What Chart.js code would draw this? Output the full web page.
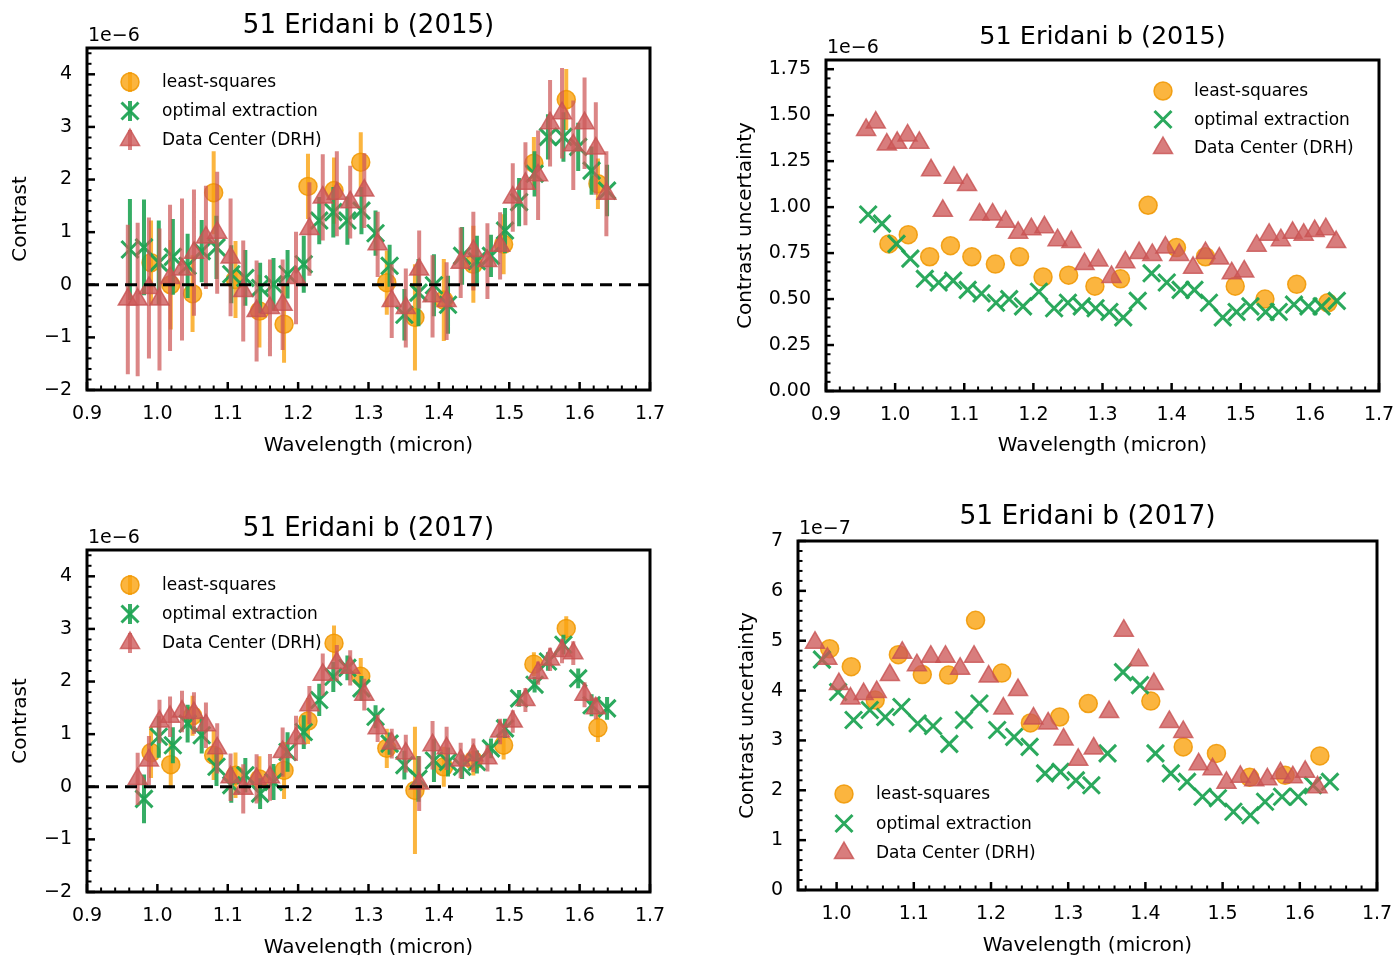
<!DOCTYPE html>
<html>
<head>
<meta charset="utf-8">
<title>51 Eridani b</title>
<script src="https://cdn.jsdelivr.net/npm/chart.js@4.4.0/dist/chart.umd.min.js"></script>
<style>
  body { margin: 0; background: #fff; width: 1395px; height: 955px; overflow: hidden; position: relative; }
  canvas { position: absolute; }
</style>
</head>
<body>
<canvas id="c15" width="697" height="477" style="left:0;top:0"></canvas>
<canvas id="u15" width="698" height="477" style="left:697px;top:0"></canvas>
<canvas id="c17" width="697" height="490" style="left:0;top:477px"></canvas>
<canvas id="u17" width="698" height="490" style="left:697px;top:477px"></canvas>
<script>
// wavelength grids (micron) for each extraction
const wlLsq = [0.991, 1.019, 1.050, 1.080, 1.111, 1.145, 1.180, 1.214, 1.251, 1.289, 1.326, 1.366, 1.407, 1.449, 1.492, 1.535, 1.581, 1.626]
const wlOpt = [0.961, 0.981, 1.002, 1.022, 1.043, 1.063, 1.084, 1.105, 1.125, 1.146, 1.165, 1.185, 1.208, 1.230, 1.250, 1.270, 1.290,
    1.310, 1.330, 1.351, 1.371, 1.393, 1.413, 1.433, 1.454, 1.474, 1.494, 1.514, 1.536, 1.555, 1.577, 1.598, 1.617, 1.639]
const wlDrh = [0.958, 0.972, 0.988, 1.003, 1.018, 1.035, 1.052, 1.069, 1.085, 1.104, 1.122, 1.141, 1.160, 1.178, 1.197, 1.216, 1.235,
    1.255, 1.274, 1.294, 1.313, 1.333, 1.353, 1.372, 1.391, 1.411, 1.431, 1.449, 1.469, 1.487, 1.505, 1.523, 1.541, 1.558, 1.575,
    1.591, 1.607, 1.623, 1.638]

// 2015 contrast (1e-6) and uncertainty (1e-6)
const lsq15 = [0.42, 0.00, -0.17, 1.75, 0.10, -0.50, -0.75, 1.87, 1.79, 2.33, 0.04, -0.62, -0.29, 0.39, 0.77, 2.31, 3.52, 1.92]
const lsqErr15 = [0.80, 0.85, 0.73, 0.79, 0.73, 0.69, 0.73, 0.62, 0.63, 0.57, 0.61, 1.01, 0.78, 0.73, 0.57, 0.50, 0.58, 0.48]
const opt15 = [0.67, 0.71, 0.42, 0.53, 0.36, 0.64, 0.71, 0.20, 0.13, -0.06, 0.01, 0.20, 0.39, 1.22, 1.38, 1.22, 1.41, 0.98, 0.36,
    -0.57, -0.15, -0.01, -0.38, 0.55, 0.45, 0.55, 1.03, 1.57, 2.11, 2.81, 2.81, 2.62, 2.17, 1.79]
const optErr15 = [0.96, 0.91, 0.80, 0.72, 0.61, 0.59, 0.60, 0.55, 0.53, 0.48, 0.50, 0.46, 0.54, 0.45, 0.48, 0.46, 0.45, 0.43, 0.40,
    0.49, 0.64, 0.59, 0.55, 0.55, 0.48, 0.40, 0.43, 0.46, 0.43, 0.43, 0.47, 0.46, 0.46, 0.49]
const drh15 = [-0.28, -0.28, -0.06, -0.28, 0.13, 0.29, 0.61, 0.90, 0.99, 0.52, -0.12, -0.50, -0.44, -0.38, 0.13, 1.06, 1.66, 1.73,
    1.57, 1.79, 0.77, -0.31, -0.44, 0.29, -0.22, -0.31, 0.42, 0.64, 0.45, 0.74, 1.66, 1.92, 2.08, 3.07, 3.26, 2.65, 3.07, 2.59, 1.73]
const drhErr15 = [1.42, 1.46, 1.34, 1.35, 1.39, 1.35, 1.20, 0.98, 1.16, 1.12, 0.96, 0.96, 0.92, 0.86, 0.88, 0.89, 0.82, 0.81, 0.69,
    0.71, 0.62, 0.70, 0.75, 0.74, 0.78, 0.74, 0.67, 0.75, 0.72, 0.64, 0.65, 0.79, 0.85, 0.82, 0.86, 0.85, 0.87, 0.88, 0.81]

// 2017 contrast (1e-6) and uncertainty (1e-7)
const lsq17 = [0.65, 0.42, 1.35, 0.60, 0.22, 0.15, 0.31, 1.25, 2.73, 2.10, 0.73, -0.07, 0.38, 0.50, 0.79, 2.33, 3.01, 1.12]
const lsqErr17 = [4.84, 4.48, 3.81, 4.72, 4.32, 4.31, 5.41, 4.35, 3.35, 3.47, 3.74, 12.1, 3.79, 2.87, 2.74, 2.26, 2.30, 2.69]
const opt17 = [null, -0.23, 0.95, 0.79, 1.20, 0.98, 0.38, 0.03, 0.22, -0.13, 0.09, 0.66, 1.04, 1.65, 2.09, 2.26, 1.87, 1.33, 0.82,
    0.41, 0.15, 0.50, 0.47, 0.38, 0.47, 0.73, 1.11, 1.68, 1.94, 2.38, 2.70, 2.06, 1.55, 1.49]
const optErr17 = [null, 4.62, 3.97, 3.41, 3.61, 3.47, 3.67, 3.34, 3.29, 2.93, 3.41, 3.74, 3.21, 3.07, 2.87, 2.34, 2.37, 2.20, 2.10,
    2.74, 4.37, 4.11, 2.74, 2.34, 2.17, 1.87, 1.84, 1.57, 1.50, 1.77, 1.87, 1.87, 2.10, 2.17]
const drh17 = [null, 0.15, 0.50, 1.24, 1.33, 1.43, 1.40, 1.17, 0.73, 0.18, -0.04, 0.15, 0.18, 0.66, 0.92, 1.55, 2.13, 2.35, 2.26,
    1.75, 1.11, 0.82, 0.63, 0.06, 0.79, 0.73, 0.50, 0.60, 0.54, 1.05, 1.24, 1.65, 2.16, 2.42, 2.58, 2.54, 1.75, 1.49, null]
const drhErr17 = [null, 4.96, 4.64, 4.13, 3.84, 3.93, 3.97, 4.31, 4.76, 4.51, 4.68, 4.68, 4.44, 4.68, 4.28, 3.64, 4.01, 3.44, 3.34,
    3.02, 2.61, 2.84, 3.57, 5.20, 4.61, 4.13, 3.37, 3.17, 2.52, 2.42, 2.15, 2.27, 2.20, 2.22, 2.34, 2.26, 2.37, 2.06, null]

// tick labels
const xTicks = [0.9, 1.0, 1.1, 1.2, 1.3, 1.4, 1.5, 1.6, 1.7]
const xTicksU17 = [1.0, 1.1, 1.2, 1.3, 1.4, 1.5, 1.6, 1.7]
const contrastTicks = [-2, -1, 0, 1, 2, 3, 4]
const uncTicks15 = [0, 0.25, 0.5, 0.75, 1.0, 1.25, 1.5, 1.75]
const uncTicks17 = [0, 1, 2, 3, 4, 5, 6, 7]
const zeroLevel = 0

const seriesNames = ['least-squares', 'optimal extraction', 'Data Center (DRH)']

Chart.defaults.font.family = "'DejaVu Sans', sans-serif"
Chart.defaults.color = '#000'
Chart.defaults.animation = false

//marker styles
const lsqSt = {style: 'circle', r: 9, fill: 'rgba(250,162,15,0.8)', edge: 'rgba(240,150,0,0.85)', bw: 1.5, bar: 'rgba(250,162,15,0.8)'}
const optSt = {style: 'crossRot', r: 12, fill: 'rgba(32,164,84,0.95)', edge: 'rgba(32,164,84,0.95)', bw: 3, bar: 'rgba(32,164,84,0.9)'}
const drhSt = {style: 'triangle', r: 11, fill: 'rgba(205,88,88,0.78)', edge: 'rgba(200,82,82,0.8)', bw: 1.5, bar: 'rgba(205,88,88,0.72)'}

function pts(xs, ys, k) {
    return xs.map((x, i) => ({x: x, y: ys[i] === null ? null : ys[i] * k}))
}
//error bars as broken line segments
function bars(xs, ys, es, k) {
    let out = []
    for (let i = 0; i < xs.length; i++) {
        if (ys[i] === null) continue
        out.push({x: xs[i], y: ys[i] - es[i] * k})
        out.push({x: xs[i], y: ys[i] + es[i] * k})
        out.push({x: xs[i], y: null})
    }
    return out
}
function markers(label, data, st, order) {
    return {type: 'scatter', label: label, data: data, order: order, pointStyle: st.style, pointRadius: st.r,
        pointHoverRadius: st.r, pointBackgroundColor: st.fill, pointBorderColor: st.edge, pointBorderWidth: st.bw,
        pointHoverBorderWidth: st.bw}
}
function errLine(data, color, order) {
    return {type: 'scatter', data: data, showLine: true, order: order, borderColor: color, borderWidth: 4,
        pointRadius: 0, pointHoverRadius: 0, spanGaps: false}
}

function drawMarker(ctx, st, x, y) {
    ctx.beginPath()
    if (st.style === 'circle') {
        ctx.arc(x, y, st.r, 0, Math.PI * 2)
    } else if (st.style === 'triangle') {
        ctx.moveTo(x, y - st.r)
        ctx.lineTo(x + 0.866 * st.r, y + 0.5 * st.r)
        ctx.lineTo(x - 0.866 * st.r, y + 0.5 * st.r)
        ctx.closePath()
    } else {
        const d = 0.707 * st.r
        ctx.moveTo(x - d, y - d); ctx.lineTo(x + d, y + d)
        ctx.moveTo(x + d, y - d); ctx.lineTo(x - d, y + d)
    }
    ctx.fillStyle = st.fill
    ctx.strokeStyle = st.edge
    ctx.lineWidth = st.bw
    if (st.style !== 'crossRot') ctx.fill()
    ctx.stroke()
}

// matplotlib-like frame, inward ticks, legend, title and offset text
const mplAxes = {
    id: 'mplAxes',
    afterDatasetsDraw(chart, args, o) {
        const ctx = chart.ctx
        const a = chart.chartArea
        ctx.save()
        ctx.strokeStyle = '#000'
        const tickLines = (scale, step, horiz) => {
            const majors = scale.ticks.map(t => t.value)
            let list = majors.map(v => [v, 8, 2.5])
            const start = Math.ceil(scale.min / step - 1e-6)
            const end = Math.floor(scale.max / step + 1e-6)
            for (let i = start; i <= end; i++) {
                const v = i * step
                if (majors.some(m => Math.abs(m - v) < step / 10)) continue
                list.push([v, 4.5, 2])
            }
            list.forEach(([v, len, w]) => {
                const p = scale.getPixelForValue(v)
                ctx.lineWidth = w
                ctx.beginPath()
                if (horiz) { ctx.moveTo(p, a.bottom); ctx.lineTo(p, a.bottom - len) }
                else { ctx.moveTo(a.left, p); ctx.lineTo(a.left + len, p) }
                ctx.stroke()
            })
        }
        tickLines(chart.scales.x, o.xMinor, true)
        tickLines(chart.scales.y, o.yMinor, false)
        ctx.lineWidth = 3
        ctx.strokeRect(a.left, a.top, a.right - a.left, a.bottom - a.top)

        // legend
        const lg = o.legend
        const styles = [lsqSt, optSt, drhSt]
        ctx.font = '17px "DejaVu Sans"'
        ctx.textBaseline = 'middle'
        ctx.textAlign = 'left'
        seriesNames.forEach((name, i) => {
            const mx = a.left + lg.mx, my = a.top + lg.my + i * lg.row
            if (lg.err) {
                ctx.strokeStyle = styles[i].bar
                ctx.lineWidth = 4
                ctx.beginPath()
                ctx.moveTo(mx, my - 10); ctx.lineTo(mx, my + 10)
                ctx.stroke()
            }
            drawMarker(ctx, styles[i], mx, my)
            ctx.fillStyle = '#000'
            ctx.fillText(name, a.left + lg.tx, my + 1)
        })

        // title and offset text
        ctx.fillStyle = '#000'
        ctx.textBaseline = 'alphabetic'
        ctx.textAlign = 'center'
        ctx.font = o.titleSize + 'px "DejaVu Sans"'
        ctx.fillText(o.title, (a.left + a.right) / 2, a.top - o.titleGap)
        ctx.textAlign = 'left'
        ctx.font = '19px "DejaVu Sans"'
        ctx.fillText(o.offset, a.left + 1, a.top - 7)
        ctx.restore()
    }
}

function panel(id, p) {
    return new Chart(document.getElementById(id), {
        data: {datasets: p.datasets},
        options: {
            responsive: false,
            animation: false,
            events: [],
            layout: {padding: p.pad},
            plugins: {
                legend: {display: false},
                tooltip: {enabled: false},
                mplAxes: p.deco
            },
            scales: {
                x: {
                    type: 'linear', min: p.xMin, max: 1.7, bounds: 'data',
                    grid: {display: false, drawTicks: false},
                    border: {display: false},
                    afterBuildTicks: s => { s.ticks = p.xTicks.map(v => ({value: v})) },
                    afterFit: s => { s.height = p.xH; s.paddingLeft = 0; s.paddingRight = 0 },
                    ticks: {padding: 13, font: {size: 19}, autoSkip: false, maxRotation: 0, callback: v => v.toFixed(1)},
                    title: {display: true, text: 'Wavelength (micron)', font: {size: 20}, padding: {top: 0, bottom: p.xTitlePad}}
                },
                y: {
                    type: 'linear', min: p.yMin, max: p.yMax, bounds: 'data',
                    grid: {display: false, drawTicks: false},
                    border: {display: false},
                    afterBuildTicks: s => { s.ticks = p.yTicks.map(v => ({value: v})) },
                    afterFit: s => { s.width = p.yW; s.paddingTop = 0; s.paddingBottom = 0 },
                    ticks: {padding: 15, font: {size: 19}, autoSkip: false, callback: p.yFmt},
                    title: {display: true, text: p.yTitle, font: {size: 20}, padding: {top: p.yTitlePad, bottom: 0}}
                }
            }
        },
        plugins: [mplAxes]
    })
}

const minusFmt = v => v < 0 ? '\u2212' + Math.abs(v) : String(v)

function contrastSets(lsq, lsqE, opt, optE, drh, drhE, k) {
    return [
        errLine(bars(wlLsq, lsq, lsqE, k), lsqSt.bar, 8),
        markers(seriesNames[0], pts(wlLsq, lsq, 1), lsqSt, 7),
        errLine(bars(wlOpt, opt, optE, k), optSt.bar, 6),
        markers(seriesNames[1], pts(wlOpt, opt, 1), optSt, 5),
        errLine(bars(wlDrh, drh, drhE, k), drhSt.bar, 4),
        markers(seriesNames[2], pts(wlDrh, drh, 1), drhSt, 3),
        {type: 'scatter', data: [{x: 0.9, y: zeroLevel}, {x: 1.7, y: zeroLevel}], showLine: true, order: 1,
            borderColor: '#000', borderWidth: 3, borderDash: [12, 7], pointRadius: 0}
    ]
}
function uncSets(lsqE, optE, drhE) {
    return [
        markers(seriesNames[0], pts(wlLsq, lsqE, 1), lsqSt, 7),
        markers(seriesNames[1], pts(wlOpt, optE, 1), optSt, 5),
        markers(seriesNames[2], pts(wlDrh, drhE, 1), drhSt, 3)
    ]
}

//2015 contrast
panel('c15', {
    datasets: contrastSets(lsq15, lsqErr15, opt15, optErr15, drh15, drhErr15, 1),
    pad: {left: 0, top: 48, right: 47, bottom: 0},
    xMin: 0.9, xTicks: xTicks, xH: 87, xTitlePad: 19,
    yMin: -2, yMax: 4.5, yTicks: contrastTicks, yW: 87, yFmt: minusFmt, yTitle: 'Contrast', yTitlePad: 9,
    deco: {title: '51 Eridani b (2015)', titleSize: 26, titleGap: 15, offset: '1e\u22126', xMinor: 0.02, yMinor: 0.2,
        legend: {mx: 43, my: 34, tx: 75, row: 29, err: true}}
})

//2015 uncertainty
panel('u15', {
    datasets: uncSets(lsqErr15, optErr15, drhErr15),
    pad: {left: 0, top: 60, right: 16, bottom: 0},
    xMin: 0.9, xTicks: xTicks, xH: 86, xTitlePad: 19,
    yMin: 0, yMax: 1.8, yTicks: uncTicks15, yW: 129, yFmt: v => v.toFixed(2), yTitle: 'Contrast uncertainty', yTitlePad: 37,
    deco: {title: '51 Eridani b (2015)', titleSize: 25.5, titleGap: 16, offset: '1e\u22126', xMinor: 0.02, yMinor: 0.05,
        legend: {mx: 337, my: 31, tx: 368, row: 28.5, err: false}}
})

//2017 contrast, uncertainties are in 1e-7
panel('c17', {
    datasets: contrastSets(lsq17, lsqErr17, opt17, optErr17, drh17, drhErr17, 0.1),
    pad: {left: 0, top: 73, right: 47, bottom: 0},
    xMin: 0.9, xTicks: xTicks, xH: 75, xTitlePad: 7,
    yMin: -2, yMax: 4.5, yTicks: contrastTicks, yW: 87, yFmt: minusFmt, yTitle: 'Contrast', yTitlePad: 9,
    deco: {title: '51 Eridani b (2017)', titleSize: 26, titleGap: 14, offset: '1e\u22126', xMinor: 0.02, yMinor: 0.2,
        legend: {mx: 43, my: 35, tx: 75, row: 29, err: true}}
})

//2017 uncertainty
panel('u17', {
    datasets: uncSets(lsqErr17, optErr17, drhErr17),
    pad: {left: 0, top: 64, right: 18, bottom: 0},
    xMin: 0.95, xTicks: xTicksU17, xH: 77, xTitlePad: 9,
    yMin: 0, yMax: 7, yTicks: uncTicks17, yW: 101, yFmt: v => String(v), yTitle: 'Contrast uncertainty', yTitlePad: 39,
    deco: {title: '51 Eridani b (2017)', titleSize: 26.5, titleGap: 17, offset: '1e\u22127', xMinor: 0.02, yMinor: 0.2,
        legend: {mx: 46, my: 253, tx: 78, row: 29.5, err: false}}
})
</script>
</body>
</html>
